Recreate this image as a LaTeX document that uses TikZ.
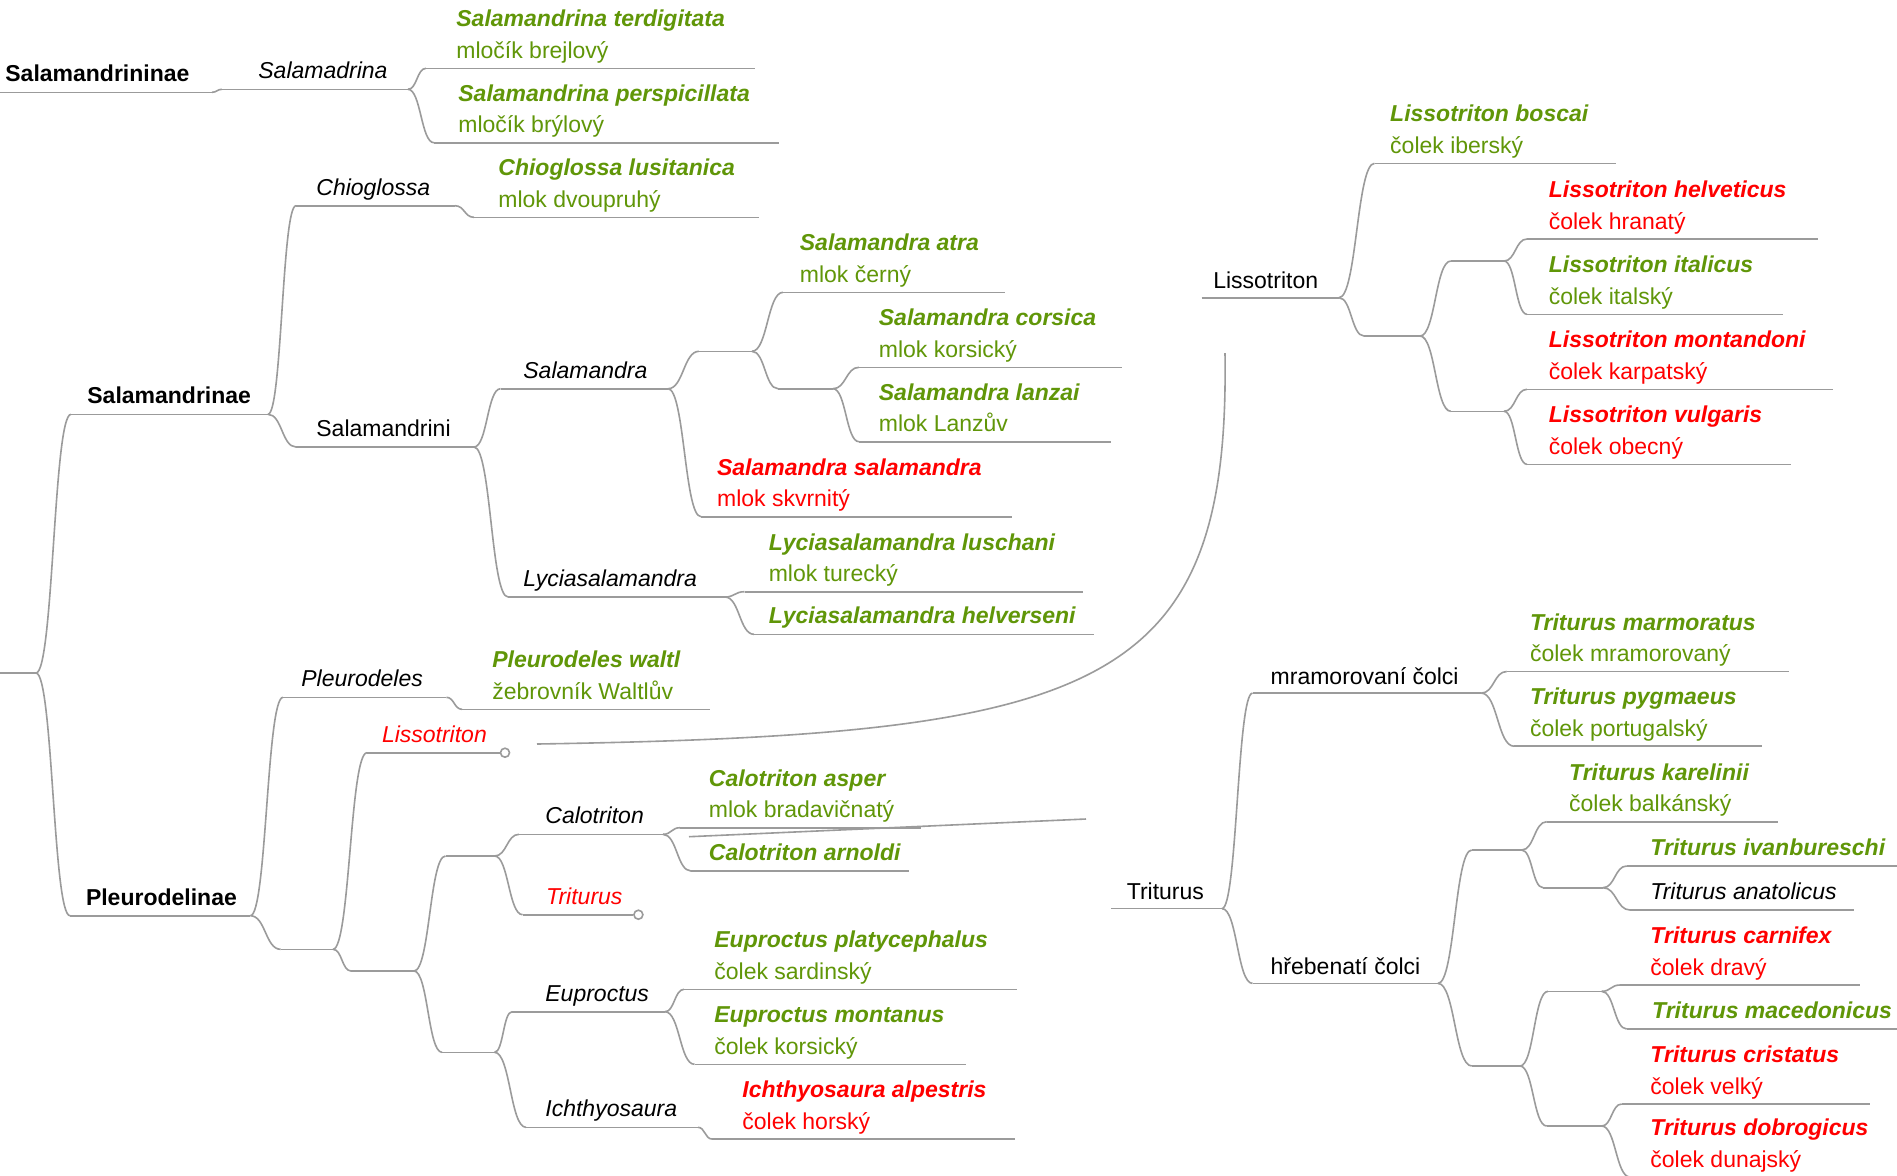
\documentclass[tikz,border=0pt]{standalone}
\usepackage{fontspec}
\setmainfont{Liberation Sans}
\usetikzlibrary{calc}
\definecolor{lgray}{RGB}{155,155,155}
\definecolor{sgreen}{RGB}{96,150,8}
\definecolor{sred}{RGB}{255,0,0}
\newcommand\fsz{\fontsize{11.5pt}{13pt}\selectfont}
\newcommand\mkline[4]{\coordinate (#1-s) at (#2,#4);\coordinate (#1-e) at (#3,#4);\draw[edge] (#1-s) -- (#1-e);}
\newcommand\mklab[5]{\node[#2] (#1) at (#3,#4-10.5) {#5};}
\newcommand\mktwo[6]{\node[t,font=\fsz\bfseries\itshape,text=#2] (#1-n) at (#3,#4-41.5) {#5};\node[t,text=#2] (#1-c) at (#3,#4-10) {#6};}
\newcommand\brn[2]{\draw[edge] (#1-e) to[br] (#2-s);}
\begin{document}
\begin{tikzpicture}[x=0.5pt,y=-0.5pt,
  edge/.style={draw=lgray, line width=0.8pt},
  br/.style={to path={let \p1=(\tikztostart), \p2=(\tikztotarget) in .. controls ({(\x1+\x2)/2},\y1) and ({(\x1+\x2)/2},\y2) .. (\tikztotarget)}},
  t/.style={anchor=base west, inner sep=0pt, font=\fsz},
  lbl/.style={t},
  lbli/.style={t, font=\fsz\itshape},
  lblb/.style={t, font=\fsz\bfseries},
  spg/.style={t, font=\fsz\bfseries\itshape, text=sgreen},
  spr/.style={t, font=\fsz\bfseries\itshape, text=sred},
  redi/.style={t, font=\fsz\itshape, text=sred},
  endo/.style={circle, draw=lgray, fill=white, line width=0.8pt, inner sep=0pt, minimum size=4.5pt}]
\useasboundingbox (0,0) rectangle (1897,1175);
\fill[white] (0,0) rectangle (1897,1175);
\clip (0,0) rectangle (1897,1175);

% ---------- Salamandrininae ----------
\mkline{rootA}{0}{212}{92.3}
\mklab{rootA}{lblb}{5}{92.3}{Salamandrininae}
\mkline{sdrina}{222}{408}{89.3}
\mklab{sdrina}{lbli}{258}{89.3}{Salamadrina}
\mkline{sterd}{426}{755}{68.3}
\mktwo{sterd}{sgreen}{456}{68.3}{Salamandrina terdigitata}{mločík brejlový}
\mkline{spers}{434}{779}{142.7}
\mktwo{spers}{sgreen}{458}{142.7}{Salamandrina perspicillata}{mločík brýlový}
\brn{rootA}{sdrina}
\brn{sdrina}{sterd}
\brn{sdrina}{spers}

% ---------- root ----------
\mkline{root}{0}{36}{673}
\mkline{sinae}{71}{268}{414.3}
\mklab{sinae}{lblb}{87}{414.3}{Salamandrinae}
\mkline{pinae}{70}{250.4}{915.7}
\mklab{pinae}{lblb}{85.6}{915.7}{Pleurodelinae}
\brn{root}{sinae}
\brn{root}{pinae}

% ---------- Salamandrinae ----------
\mkline{chio}{296}{455}{205.7}
\mklab{chio}{lbli}{316}{205.7}{Chioglossa}
\mkline{chiol}{474}{759}{217.3}
\mktwo{chiol}{sgreen}{498}{217.3}{Chioglossa lusitanica}{mlok dvoupruhý}
\mkline{sini}{296}{474}{447}
\mklab{sini}{lbl}{316}{447}{Salamandrini}
\mkline{sdra}{500.5}{668}{388.7}
\mklab{sdra}{lbli}{523}{388.7}{Salamandra}
\mkline{X}{699}{752}{351.3}
\mkline{atra}{783}{1005}{292.3}
\mktwo{atra}{sgreen}{799.5}{292.3}{Salamandra atra}{mlok černý}
\mkline{Y}{778}{833}{388.7}
\mkline{cors}{859}{1121.5}{367.3}
\mktwo{cors}{sgreen}{878.5}{367.3}{Salamandra corsica}{mlok korsický}
\mkline{lanz}{859}{1110.5}{441.7}
\mktwo{lanz}{sgreen}{878.5}{441.7}{Salamandra lanzai}{mlok Lanzův}
\mkline{ssal}{701}{1011.5}{516.7}
\mktwo{ssal}{sred}{716.7}{516.7}{Salamandra salamandra}{mlok skvrnitý}
\mkline{lyc}{508}{725}{597}
\mklab{lyc}{lbli}{523}{597}{Lyciasalamandra}
\mkline{lus}{744.5}{1083}{591.7}
\mktwo{lus}{sgreen}{768.4}{591.7}{Lyciasalamandra luschani}{mlok turecký}
\mkline{helv}{754}{1094}{634.3}
\mklab{helv}{spg}{768.4}{634.3}{Lyciasalamandra helverseni}
\brn{sinae}{chio}
\brn{sinae}{sini}
\brn{chio}{chiol}
\brn{sini}{sdra}
\brn{sini}{lyc}
\brn{sdra}{X}
\brn{sdra}{ssal}
\brn{X}{atra}
\brn{X}{Y}
\brn{Y}{cors}
\brn{Y}{lanz}
\brn{lyc}{lus}
\brn{lyc}{helv}

% ---------- Pleurodelinae ----------
\mkline{pleu}{283}{446.4}{697.3}
\mklab{pleu}{lbli}{301}{697.3}{Pleurodeles}
\mkline{pwal}{462}{710}{709.3}
\mktwo{pwal}{sgreen}{492}{709.3}{Pleurodeles waltl}{žebrovník Waltlův}
\mkline{P1}{280.6}{333}{949.3}
\coordinate (lisL-s) at (367,752.7);
\node[endo] (lisLo) at (505,752.7) {};
\draw[edge] (lisL-s) -- (lisLo.west);
\mklab{lisL}{redi}{381.6}{752.7}{Lissotriton}
\mkline{P2}{351}{414}{971}
\mkline{P3}{445.5}{494.6}{856}
\mkline{calo}{519}{663}{834.3}
\mklab{calo}{lbli}{545}{834.3}{Calotriton}
\mkline{casp}{680}{921}{827.7}
\mktwo{casp}{sgreen}{708.5}{827.7}{Calotriton asper}{mlok bradavičnatý}
\mkline{carn}{691}{908.5}{871}
\mklab{carn}{spg}{708.5}{871}{Calotriton arnoldi}
\coordinate (triL-s) at (522.6,914.7);
\node[endo] (triLo) at (638.4,914.7) {};
\draw[edge] (triL-s) -- (triLo.west);
\mklab{triL}{redi}{545.8}{914.7}{Triturus}
\mkline{P4}{442}{494.6}{1052.3}
\mkline{eup}{512}{665}{1011.7}
\mklab{eup}{lbli}{545}{1011.7}{Euproctus}
\mkline{eplat}{684}{1017}{989.3}
\mktwo{eplat}{sgreen}{714}{989.3}{Euproctus platycephalus}{čolek sardinský}
\mkline{emon}{694.5}{966}{1064.3}
\mktwo{emon}{sgreen}{714}{1064.3}{Euproctus montanus}{čolek korsický}
\mkline{ich}{526}{698}{1127.3}
\mklab{ich}{lbli}{545}{1127.3}{Ichthyosaura}
\mkline{ialp}{712}{1015}{1139}
\mktwo{ialp}{sred}{742}{1139}{Ichthyosaura alpestris}{čolek horský}
\brn{pinae}{pleu}
\brn{pinae}{P1}
\brn{pleu}{pwal}
\brn{P1}{lisL}
\brn{P1}{P2}
\brn{P2}{P3}
\brn{P2}{P4}
\brn{P3}{calo}
\brn{P3}{triL}
\brn{calo}{casp}
\brn{calo}{carn}
\brn{P4}{eup}
\brn{P4}{ich}
\brn{eup}{eplat}
\brn{eup}{emon}
\brn{ich}{ialp}

% ---------- right: Lissotriton ----------
\mkline{lisR}{1201.7}{1339}{297.7}
\mklab{lisR}{lbl}{1212.9}{299}{Lissotriton}
\mkline{bosc}{1374.5}{1616}{163.3}
\mktwo{bosc}{sgreen}{1389.8}{163.3}{Lissotriton boscai}{čolek iberský}
\mkline{L1}{1364}{1420}{336}
\mkline{L2}{1450.8}{1504}{261}
\mkline{helvt}{1527}{1818}{239}
\mktwo{helvt}{sred}{1548.4}{239}{Lissotriton helveticus}{čolek hranatý}
\mkline{ital}{1527}{1782.8}{314.3}
\mktwo{ital}{sgreen}{1548.4}{314.3}{Lissotriton italicus}{čolek italský}
\mkline{L3}{1450.8}{1504}{411.3}
\mkline{mont}{1527}{1833}{389.3}
\mktwo{mont}{sred}{1548.4}{389.3}{Lissotriton montandoni}{čolek karpatský}
\mkline{vulg}{1527}{1791.4}{464.3}
\mktwo{vulg}{sred}{1548.4}{464.3}{Lissotriton vulgaris}{čolek obecný}
\brn{lisR}{bosc}
\brn{lisR}{L1}
\brn{L1}{L2}
\brn{L1}{L3}
\brn{L2}{helvt}
\brn{L2}{ital}
\brn{L3}{mont}
\brn{L3}{vulg}

% ---------- right: Triturus ----------
\mkline{triR}{1111.2}{1222}{908.6}
\mklab{triR}{lbl}{1126.4}{910}{Triturus}
\mkline{mram}{1252.5}{1481.3}{693.1}
\mklab{mram}{lbl}{1270.3}{694.5}{mramorovaní čolci}
\mkline{marm}{1506.7}{1788.9}{671.5}
\mktwo{marm}{sgreen}{1529.6}{671.5}{Triturus marmoratus}{čolek mramorovaný}
\mkline{pygm}{1514}{1762.4}{746.2}
\mktwo{pygm}{sgreen}{1529.6}{746.2}{Triturus pygmaeus}{čolek portugalský}
\mkline{hreb}{1252.5}{1438}{983.4}
\mklab{hreb}{lbl}{1270.3}{984.8}{hřebenatí čolci}
\mkline{T1}{1471.7}{1521.7}{850}
\mkline{kar}{1546.7}{1777.7}{821.7}
\mktwo{kar}{sgreen}{1568.7}{821.7}{Triturus karelinii}{čolek balkánský}
\mkline{T3}{1543}{1603}{887.7}
\mkline{ivan}{1626.7}{1897}{866}
\mklab{ivan}{spg}{1650}{866}{Triturus ivanbureschi}
\mkline{anat}{1630}{1854}{910}
\mklab{anat}{lbli}{1650}{910}{Triturus anatolicus}
\mkline{T2}{1471.7}{1520}{1066}
\mkline{T4}{1548}{1601.7}{991.3}
\mkline{carnf}{1620}{1860}{985}
\mktwo{carnf}{sred}{1650}{985}{Triturus carnifex}{čolek dravý}
\mkline{mace}{1626.7}{1897}{1029}
\mklab{mace}{spg}{1651.7}{1029}{Triturus macedonicus}
\mkline{T5}{1546.7}{1601.7}{1126}
\mkline{cris}{1621.7}{1870}{1104}
\mktwo{cris}{sred}{1650}{1104}{Triturus cristatus}{čolek velký}
\mkline{dobr}{1630}{1897}{1177}
\mktwo{dobr}{sred}{1650}{1177}{Triturus dobrogicus}{čolek dunajský}
\brn{triR}{mram}
\brn{triR}{hreb}
\brn{mram}{marm}
\brn{mram}{pygm}
\brn{hreb}{T1}
\brn{hreb}{T2}
\brn{T1}{kar}
\brn{T1}{T3}
\brn{T3}{ivan}
\brn{T3}{anat}
\brn{T2}{T4}
\brn{T2}{T5}
\brn{T4}{carnf}
\brn{T4}{mace}
\brn{T5}{cris}
\brn{T5}{dobr}

% ---------- cross links ----------
\coordinate (lisLx) at (537,744);
\coordinate (lisRx) at (1225,353);
\draw[edge] (lisLx) .. controls (1100,735) and (1230,690) .. (lisRx);
\coordinate (triLx) at (689,836.7);
\coordinate (triRx) at (1086,819);
\draw[edge] (triLx) -- (triRx);
\end{tikzpicture}
\end{document}
